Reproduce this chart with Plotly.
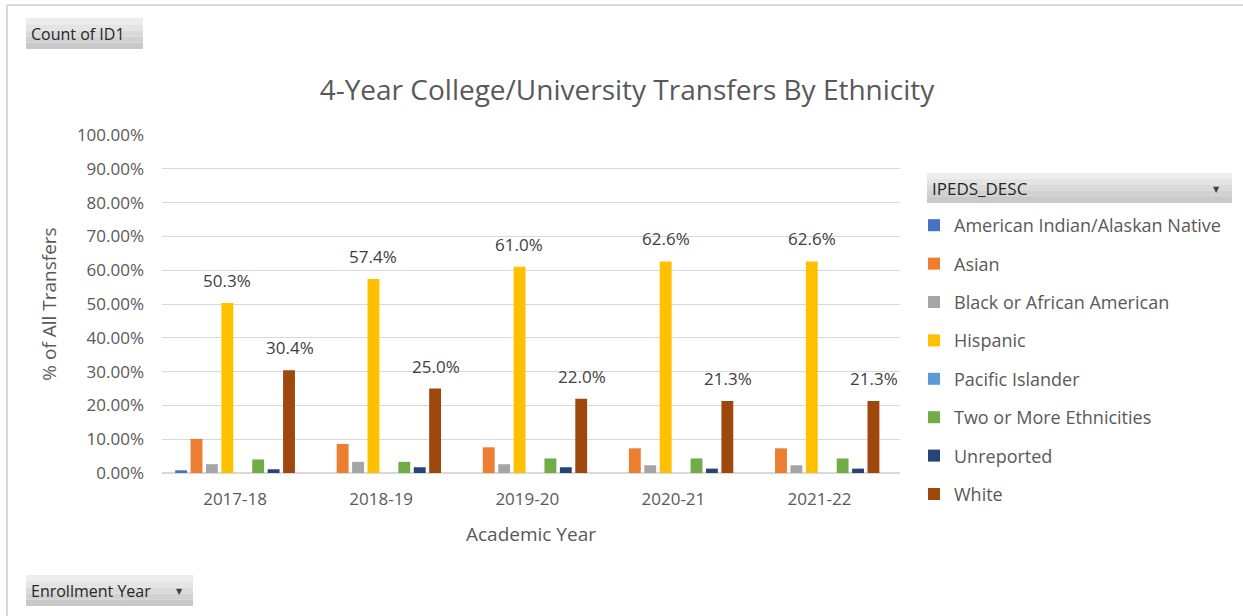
import plotly.graph_objects as go

# ---- data -------------------------------------------------------------
years = ["2017-18", "2018-19", "2019-20", "2020-21", "2021-22"]
groups = [
    "American Indian/Alaskan Native",
    "Asian",
    "Black or African American",
    "Hispanic",
    "Pacific Islander",
    "Two or More Ethnicities",
    "Unreported",
    "White",
]
am_indian = [0.008, 0.0, 0.0, 0.0, 0.0]
asian = [0.101, 0.086, 0.076, 0.073, 0.073]
black = [0.026, 0.033, 0.026, 0.023, 0.023]
hispanic = [0.503, 0.574, 0.610, 0.626, 0.626]
pacific = [0.0, 0.0, 0.0, 0.0, 0.0]
two_more = [0.040, 0.033, 0.043, 0.043, 0.043]
unreported = [0.011, 0.017, 0.017, 0.013, 0.013]
white = [0.304, 0.250, 0.220, 0.213, 0.213]

series = [am_indian, asian, black, hispanic, pacific, two_more, unreported, white]
colors = ["#4472C4", "#ED7D31", "#A5A5A5", "#FFC000", "#5B9BD5", "#70AD47", "#264478", "#9E480E"]
labelled = {"Hispanic", "White"}

FONT = "Open Sans"
GREY = "#595959"

W, H = 1243, 616
L, R, T, B = 162, 900, 135, 473  # plot area in pixels
BARGAP, GROUPGAP = 0.156, 0.23


def px(x):
    return (x - L) / (R - L)


def py(y):
    return (B - y) / (B - T)


fig = go.Figure()
for name, vals, col in zip(groups, series, colors):
    fig.add_trace(go.Bar(
        x=years, y=vals, name=name, legendgroup=name,
        marker=dict(color=col, line=dict(width=0)),
        hoverinfo="skip",
    ))

shapes = []
annotations = []

# value labels above the Hispanic and White bars; the horizontal shift puts
# each label over its own bar inside the grouped cluster
cat_px = (R - L) / len(years)
slot_px = cat_px * (1 - BARGAP) / len(groups)
for k, (name, vals) in enumerate(zip(groups, series)):
    if name not in labelled:
        continue
    shift = (k + 0.5 - len(groups) / 2) * slot_px
    for yr, v in zip(years, vals):
        annotations.append(dict(
            x=yr, y=v, xref="x", yref="y", text=f"{v:.1%}", showarrow=False,
            xanchor="center", yanchor="bottom", xshift=shift, yshift=9,
            font=dict(family=FONT, size=17, color="#404040"),
        ))


def button(x0, y0, x1, y1, label, arrow_x=None, size=16):
    # light grey gradient box drawn as stacked bands
    bands = ["#EDEDED", "#E4E4E4", "#DADADA", "#D1D1D1", "#C9C9C9"]
    h = (y1 - y0) / len(bands)
    for i, c in enumerate(bands):
        shapes.append(dict(type="rect", xref="paper", yref="paper",
                           x0=px(x0), x1=px(x1), y0=py(y0 + i * h), y1=py(y0 + (i + 1) * h),
                           fillcolor=c, line=dict(width=0), layer="below"))
    annotations.append(dict(xref="paper", yref="paper", x=px(x0 + 3), y=py((y0 + y1) / 2),
                            text=label, showarrow=False, xanchor="left", yanchor="middle",
                            font=dict(family=FONT, size=size, color="#262626")))
    if arrow_x is not None:
        annotations.append(dict(xref="paper", yref="paper", x=px(arrow_x), y=py((y0 + y1) / 2 + 1),
                                text="▼", showarrow=False, xanchor="center", yanchor="middle",
                                font=dict(family="DejaVu Sans", size=8, color="#404040")))


button(26, 18, 143, 49, "Count of ID1")
button(26, 575, 193, 606, "Enrollment Year", arrow_x=179)
button(927, 173, 1232, 203, "IPEDS_DESC", arrow_x=1216, size=17)

# outer frame lines
shapes.append(dict(type="line", xref="paper", yref="paper", x0=px(7), x1=px(1243), y0=py(5), y1=py(5),
                   line=dict(color="#D9D9D9", width=2)))
shapes.append(dict(type="line", xref="paper", yref="paper", x0=px(7), x1=px(7), y0=py(5), y1=py(616),
                   line=dict(color="#D9D9D9", width=2)))

fig.update_layout(
    width=W, height=H,
    margin=dict(l=L, r=W - R, t=T, b=H - B, pad=0),
    paper_bgcolor="white", plot_bgcolor="white",
    barmode="group", bargap=BARGAP, bargroupgap=GROUPGAP,
    title=dict(text="4-Year College/University Transfers By Ethnicity",
               x=px(627), xref="paper", xanchor="center",
               y=1 - 90 / H, yanchor="middle",
               font=dict(family=FONT, size=28, color=GREY)),
    xaxis=dict(
        type="category", showgrid=False, showline=False, ticks="",
        tickfont=dict(family=FONT, size=17, color=GREY),
        ticklabelstandoff=14,
        title=dict(text="Academic Year", font=dict(family=FONT, size=19, color=GREY), standoff=18),
    ),
    yaxis=dict(
        range=[0, 1.0], dtick=0.1, tickformat=".2%",
        showgrid=True, gridcolor="#D9D9D9", gridwidth=1,
        zeroline=True, zerolinecolor="#D9D9D9", zerolinewidth=2,
        showline=False, ticks="",
        tickfont=dict(family=FONT, size=17, color=GREY),
        ticklabelstandoff=17,
        title=dict(text="% of All Transfers", font=dict(family=FONT, size=19, color=GREY), standoff=15),
    ),
    legend=dict(
        x=px(914), xanchor="left", y=py(207), yanchor="top",
        font=dict(family=FONT, size=18, color=GREY),
        tracegroupgap=12, itemwidth=30,
        bgcolor="rgba(0,0,0,0)",
    ),
    shapes=shapes,
    annotations=annotations,
    showlegend=True,
)

fig.write_html("out.html")
